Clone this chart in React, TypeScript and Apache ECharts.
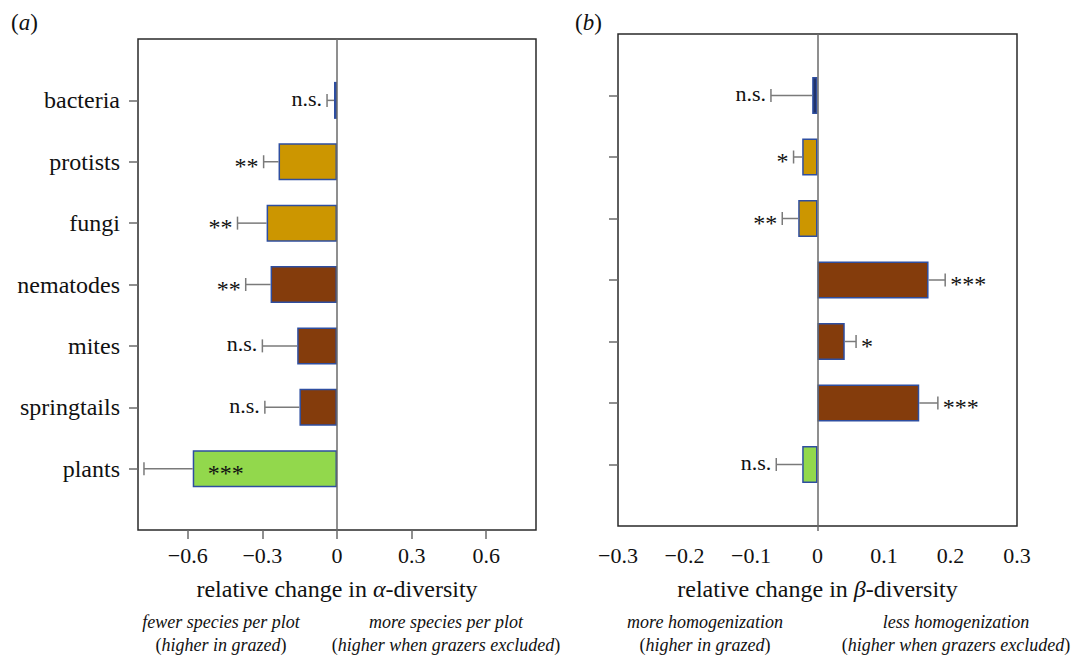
import { useEffect, useRef } from 'react';
import * as echarts from 'echarts';

// ---------- data ----------
const categories = ['bacteria', 'protists', 'fungi', 'nematodes', 'mites', 'springtails', 'plants'];

const alphaChange = [-0.012, -0.235, -0.283, -0.267, -0.16, -0.151, -0.58];
const alphaErrEnd = [-0.04, -0.295, -0.4, -0.367, -0.3, -0.29, -0.776];
const alphaSig = ['n.s.', '**', '**', '**', 'n.s.', 'n.s.', '***'];

const betaChange = [-0.008, -0.023, -0.029, 0.167, 0.041, 0.153, -0.023];
const betaErrEnd = [-0.07, -0.036, -0.053, 0.192, 0.058, 0.181, -0.062];
const betaSig = ['n.s.', '*', '**', '***', '*', '***', 'n.s.'];

const alphaTicks = [-0.6, -0.3, 0, 0.3, 0.6];
const betaTicks = [-0.3, -0.2, -0.1, 0, 0.1, 0.2, 0.3];

// ---------- styles ----------
const SERIF = 'Liberation Serif, Times New Roman, serif';
const barColors = ['#22346a', '#cc9600', '#cc9600', '#843c0c', '#843c0c', '#843c0c', '#92d84c'];
const barBorder = '#2e4ea0';
const errColor = '#7a7a7a';
const textColor = '#111';

const slotNames = ['', ...categories, ''];

function fmt(v: number): string {
  if (Math.abs(v) < 1e-9) return '0';
  return (v < 0 ? '\u2212' : '') + Math.abs(v).toFixed(1);
}

function panelSeries(g: number, values: number[], errEnd: number[], sig: string[]) {
  return [
    {
      type: 'bar',
      xAxisIndex: g,
      yAxisIndex: g,
      barWidth: 37,
      data: values.map((v, i) => ({
        value: [v, i + 1],
        itemStyle: { color: barColors[i], borderColor: barBorder, borderWidth: 1.5 },
      })),
      markLine: {
        silent: true,
        symbol: ['none', 'none'],
        label: { show: false },
        lineStyle: { color: '#6a6a6a', width: 1.5, type: 'solid' },
        data: [{ xAxis: 0 }],
      },
      z: 2,
    },
    {
      type: 'custom',
      xAxisIndex: g,
      yAxisIndex: g,
      z: 3,
      data: errEnd.map((e, i) => [e, i + 1, values[i]]),
      encode: { x: [0, 2], y: 1 },
      renderItem: (params: any, api: any) => {
        const end = api.value(0) as number;
        const idx = api.value(1) as number;
        const base = api.value(2) as number;
        const pe = api.coord([end, idx]);
        const pb = api.coord([base, idx]);
        const cs = params.coordSys;
        const label = sig[params.dataIndex];
        const estW = label.length * 11;
        let tx: number;
        let align: string;
        if (end < 0 && pe[0] - 5 - estW < cs.x) {
          tx = pb[0] + 15;
          align = 'left';
        } else if (end < 0) {
          tx = pe[0] - 5;
          align = 'right';
        } else {
          tx = pe[0] + 5;
          align = 'left';
        }
        const isStar = label.indexOf('*') >= 0;
        return {
          type: 'group',
          children: [
            {
              type: 'line',
              shape: { x1: pb[0], y1: pe[1], x2: pe[0], y2: pe[1] },
              style: { stroke: errColor, lineWidth: 1.5 },
            },
            {
              type: 'line',
              shape: { x1: pe[0], y1: pe[1] - 6.5, x2: pe[0], y2: pe[1] + 6.5 },
              style: { stroke: errColor, lineWidth: 1.5 },
            },
            {
              type: 'text',
              x: tx,
              y: pe[1] + (isStar ? 4 : -2),
              style: {
                text: label,
                align,
                verticalAlign: 'middle',
                fontSize: isStar ? 24 : 22,
                fontFamily: SERIF,
                fill: textColor,
              },
            },
          ],
        };
      },
    },
  ];
}

function yAxis(g: number) {
  return {
    type: 'category',
    gridIndex: g,
    data: slotNames,
    inverse: true,
    boundaryGap: false,
    axisLine: { show: false, onZero: false },
    axisTick: {
      show: true,
      length: 9,
      inside: false,
      interval: (i: number) => i > 0 && i < slotNames.length - 1,
      lineStyle: { color: '#6a6a6a', width: 1.5 },
    },
    axisLabel: {
      show: g === 0,
      interval: 0,
      margin: 18,
      fontSize: 24,
      fontFamily: SERIF,
      color: textColor,
    },
    splitLine: { show: false },
  };
}

const nameRich = {
  n: { fontSize: 24, fontFamily: SERIF, color: textColor },
  g: { fontSize: 24, fontFamily: SERIF, fontStyle: 'italic', color: textColor },
};

function subText(x: number, y: number, content: string, paren: boolean) {
  return {
    type: 'text',
    x,
    y,
    style: {
      text: paren ? `{p|(}{i|${content}}{p|)}` : `{i|${content}}`,
      align: 'center',
      verticalAlign: 'middle',
      rich: {
        p: { fontSize: 18, fontFamily: SERIF, fill: textColor },
        i: { fontSize: 18, fontFamily: SERIF, fontStyle: 'italic', fill: textColor },
      },
    },
  };
}

function panelTitle(x: number, letter: string) {
  return {
    type: 'text',
    x,
    y: 22,
    style: {
      text: `{p|(}{i|${letter}}{p|)}`,
      align: 'left',
      verticalAlign: 'middle',
      rich: {
        p: { fontSize: 23, fontFamily: SERIF, fill: textColor },
        i: { fontSize: 23, fontFamily: SERIF, fontStyle: 'italic', fill: textColor },
      },
    },
  };
}

export default function App() {
  const ref = useRef<HTMLDivElement>(null);

  useEffect(() => {
    if (!ref.current) return;
    const chart = echarts.init(ref.current, undefined, { renderer: 'svg' });
    chart.setOption({
      animation: false,
      backgroundColor: '#ffffff',
      textStyle: { fontFamily: SERIF },
      grid: [
        { left: 138, top: 39, width: 398, height: 491, show: true, borderColor: '#2a2a2a', borderWidth: 1.5, containLabel: false },
        { left: 618, top: 34, width: 399, height: 492, show: true, borderColor: '#2a2a2a', borderWidth: 1.5, containLabel: false },
      ],
      xAxis: [
        {
          type: 'value',
          gridIndex: 0,
          min: -0.8,
          max: 0.8,
          axisLine: { show: false, onZero: false },
          splitLine: { show: false },
          axisTick: { show: true, customValues: alphaTicks, length: 9, lineStyle: { color: '#6a6a6a', width: 1.5 } },
          axisLabel: { customValues: alphaTicks, formatter: fmt, fontSize: 22, fontFamily: SERIF, color: textColor, margin: 14 },
          name: '{n|relative change in }{g|α}{n|-diversity}',
          nameLocation: 'middle',
          nameGap: 47,
          nameTextStyle: { rich: nameRich },
        },
        {
          type: 'value',
          gridIndex: 1,
          min: -0.3,
          max: 0.3,
          axisLine: { show: false, onZero: false },
          splitLine: { show: false },
          axisTick: { show: true, customValues: [0], length: 5, lineStyle: { color: '#6a6a6a', width: 1.5 } },
          axisLabel: { customValues: betaTicks, formatter: fmt, fontSize: 22, fontFamily: SERIF, color: textColor, margin: 18 },
          name: '{n|relative change in }{g|β}{n|-diversity}',
          nameLocation: 'middle',
          nameGap: 51,
          nameTextStyle: { rich: nameRich },
        },
      ],
      yAxis: [yAxis(0), yAxis(1)],
      series: [
        ...panelSeries(0, alphaChange, alphaErrEnd, alphaSig),
        ...panelSeries(1, betaChange, betaErrEnd, betaSig),
      ],
      graphic: [
        panelTitle(11, 'a'),
        panelTitle(575, 'b'),
        subText(221, 622, 'fewer species per plot', false),
        subText(221, 645, 'higher in grazed', true),
        subText(446, 622, 'more species per plot', false),
        subText(446, 645, 'higher when grazers excluded', true),
        subText(705, 622, 'more homogenization', false),
        subText(705, 645, 'higher in grazed', true),
        subText(956, 622, 'less homogenization', false),
        subText(956, 645, 'higher when grazers excluded', true),
      ],
    });
    return () => chart.dispose();
  }, []);

  return (
    <div
      ref={ref}
      style={{ position: 'fixed', left: 0, top: 0, width: 1077, height: 655, background: '#fff' }}
    />
  );
}
